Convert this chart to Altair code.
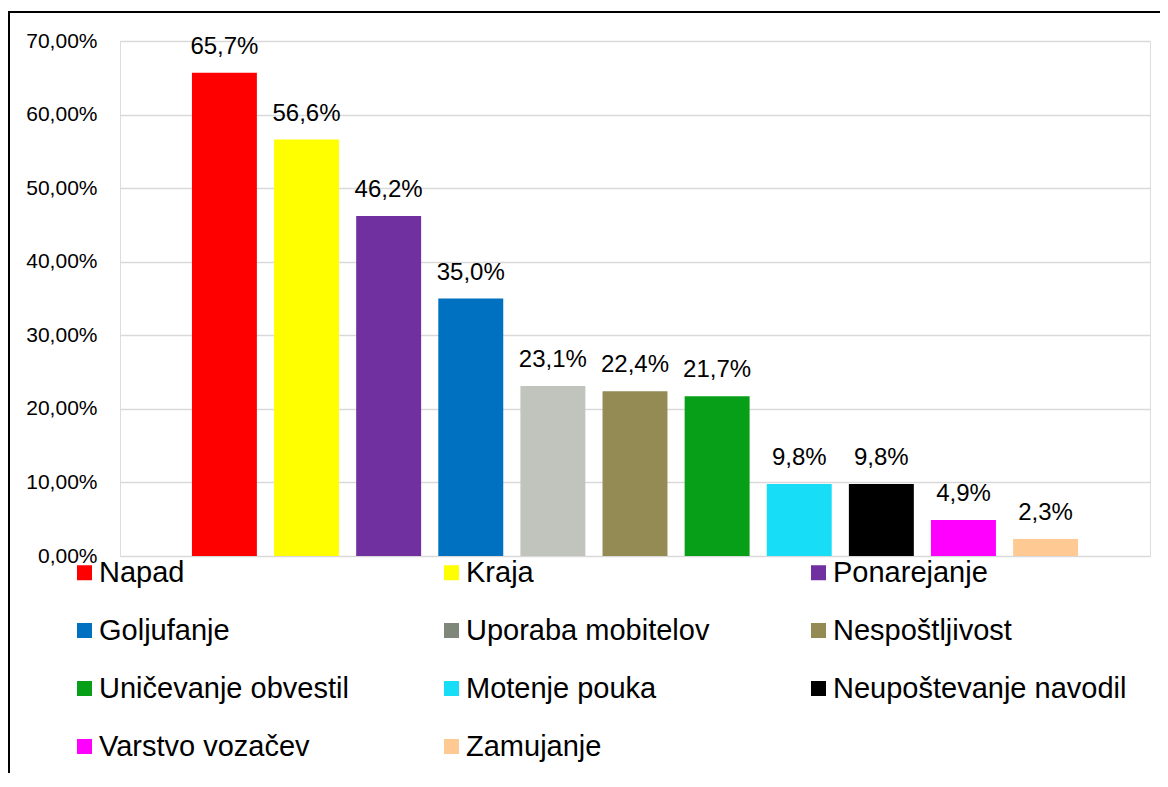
import altair as alt
import pandas as pd

categories = ["Napad", "Kraja", "Ponarejanje", "Goljufanje", "Uporaba mobitelov",
              "Nespoštljivost", "Uničevanje obvestil", "Motenje pouka",
              "Neupoštevanje navodil", "Varstvo vozačev", "Zamujanje"]
values = [65.7, 56.6, 46.2, 35.0, 23.1, 22.4, 21.7, 9.8, 9.8, 4.9, 2.3]
bar_colors = ["#FF0000", "#FFFF00", "#7030A0", "#0070C0", "#C0C4BC", "#948A54",
              "#079E18", "#17DDF7", "#000000", "#FF00FF", "#FFC993"]
legend_colors = ["#FF0000", "#FFFF00", "#7030A0", "#0070C0", "#7F877B", "#948A54",
                 "#079E18", "#17DDF7", "#000000", "#FF00FF", "#FFC993"]
y_ticks = [0, 0.1, 0.2, 0.3, 0.4, 0.5, 0.6, 0.7]

FONT = "Liberation Sans, Arial, sans-serif"

df = pd.DataFrame({
    "cat": categories,
    "value": [v / 100 for v in values],
    "label": [f"{v:.1f}%".replace(".", ",") for v in values],
    "bar_color": bar_colors,
})

base = alt.Chart(df)

x_enc = alt.X("cat:N", sort=categories,
              scale=alt.Scale(paddingInner=0.209, paddingOuter=0.876), axis=None)
y_enc = alt.Y("value:Q",
              scale=alt.Scale(domain=[0, 0.7], nice=False, zero=True),
              axis=alt.Axis(values=y_ticks,
                            labelExpr="replace(format(datum.value, '.2%'), '.', ',')",
                            labelFontSize=21, labelFont=FONT, labelColor="#000000",
                            labelPadding=23, ticks=False, tickSize=0, domain=False,
                            grid=True, gridColor="#D9D9D9", gridWidth=1.5, title=None))

bars = base.mark_bar().encode(
    x=x_enc, y=y_enc,
    fill=alt.Fill("bar_color:N", scale=None),
)

legend_layer = base.mark_bar(opacity=0).encode(
    x=x_enc, y=alt.Y("value:Q"),
    color=alt.Color("cat:N", sort=categories,
                    scale=alt.Scale(domain=categories, range=legend_colors),
                    legend=alt.Legend(orient="none", legendX=-50, legendY=517,
                                      direction="horizontal",
                                      columns=3, symbolType="square", symbolSize=225,
                                      symbolStrokeWidth=0, symbolOpacity=1,
                                      labelFontSize=29, labelFont=FONT,
                                      labelColor="#000000", labelLimit=600,
                                      labelOffset=0, columnPadding=44, rowPadding=28,
                                      gridAlign="all", title=None, padding=0)),
)

texts = base.mark_text(dy=-19, baseline="alphabetic", fontSize=24, font=FONT,
                       color="#000000").encode(
    x=x_enc, y=alt.Y("value:Q"), text="label:N"
)

frame_df = pd.DataFrame({"a": [0]})
left_line = alt.Chart(frame_df).mark_rule(color="#000000", strokeWidth=2).encode(
    x=alt.value(-111), y=alt.value(-29), y2=alt.value(900)
)
top_line = alt.Chart(frame_df).mark_rule(color="#000000", strokeWidth=2).encode(
    x=alt.value(-112), x2=alt.value(1200), y=alt.value(-29)
)

chart = alt.layer(bars, legend_layer, texts, left_line, top_line).properties(
    width=1030, height=515,
    padding={"left": 112, "top": 33, "right": 10, "bottom": 217},
    autosize=alt.AutoSizeParams(type="none"),
).configure_view(stroke=None).configure(background="#FFFFFF")

chart.save("out.html", embed_options={"renderer": "svg", "actions": False})
